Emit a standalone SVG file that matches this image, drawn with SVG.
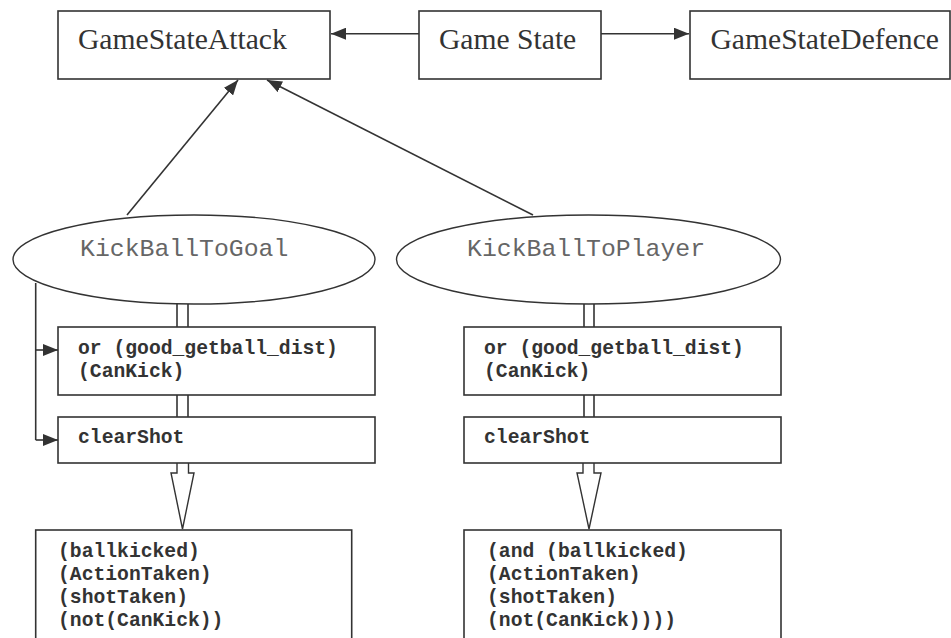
<svg xmlns="http://www.w3.org/2000/svg" width="951" height="638" viewBox="0 0 951 638">
<defs>
<marker id="ah" markerWidth="15" markerHeight="12" refX="15" refY="6" orient="auto" markerUnits="userSpaceOnUse">
<path d="M0,0 L15,6 L0,12 Z" fill="#333"/>
</marker>
<style>
.box{fill:#fff;stroke:#333;stroke-width:1.6}
.ell{fill:#fff;stroke:#333;stroke-width:1.4}
.ln{fill:none;stroke:#333;stroke-width:1.6}
.hol{fill:#fff;stroke:#333;stroke-width:1.4}
.serif{font-family:"Liberation Serif","Times New Roman",serif;font-size:29.6px;fill:#333}
.mono{font-family:"Liberation Mono","Courier New",monospace;font-size:24.8px;fill:#666}
.code{font-family:"Liberation Mono","Courier New",monospace;font-size:19.7px;font-weight:bold;fill:#333}
</style>
</defs>
<rect width="951" height="638" fill="#fff"/>
<g id="connectors">
<line class="ln" x1="419" y1="33.7" x2="331" y2="33.7" marker-end="url(#ah)"/>
<line class="ln" x1="601" y1="33.7" x2="689" y2="33.7" marker-end="url(#ah)"/>
<line class="ln" x1="127" y1="215" x2="238" y2="80" marker-end="url(#ah)"/>
<line class="ln" x1="533" y1="215" x2="267" y2="80" marker-end="url(#ah)"/>
<path class="ln" d="M35.7,283 V440"/>
<line class="ln" x1="35.7" y1="350" x2="58" y2="350" marker-end="url(#ah)"/>
<line class="ln" x1="35.7" y1="440" x2="58" y2="440" marker-end="url(#ah)"/>
<path class="ln" d="M177,304 V327 M188,304 V327 M177,395 V417 M188,395 V417"/>
<path class="ln" d="M584,304 V327 M594,304 V327 M584,395 V417 M594,395 V417"/>
<path class="hol" d="M177,463 V473 H171 L182.5,529 L194,473 H188.5 V463"/>
<path class="hol" d="M583,463 V473 H577 L589,529 L601,473 H594 V463"/>
</g>
<g id="gameStateAttack">
<rect class="box" x="58" y="11" width="272" height="68"/>
<text class="serif" x="78" y="49.3">GameStateAttack</text>
</g>
<g id="gameState">
<rect class="box" x="419" y="11" width="182" height="68"/>
<text class="serif" x="439" y="49.3">Game State</text>
</g>
<g id="gameStateDefence">
<rect class="box" x="690" y="11" width="260" height="68"/>
<text class="serif" x="710.5" y="49.3">GameStateDefence</text>
</g>
<g id="kickBallToGoal">
<ellipse class="ell" cx="194" cy="259.5" rx="181" ry="44.5"/>
<text class="mono" x="80" y="256">KickBallToGoal</text>
</g>
<g id="kickBallToPlayer">
<ellipse class="ell" cx="588.5" cy="259.5" rx="192" ry="44.5"/>
<text class="mono" x="467" y="256">KickBallToPlayer</text>
</g>
<g id="goalCondition">
<rect class="box" x="58" y="327" width="317" height="68"/>
<text class="code" x="78" y="354">or (good_getball_dist)</text>
<text class="code" x="78" y="376.7">(CanKick)</text>
</g>
<g id="goalClearShot">
<rect class="box" x="58" y="417" width="317" height="46"/>
<text class="code" x="78" y="443">clearShot</text>
</g>
<g id="goalEffects">
<rect class="box" x="35.7" y="530" width="316" height="120"/>
<text class="code" x="58" y="557.3">(ballkicked)</text>
<text class="code" x="58" y="580.3">(ActionTaken)</text>
<text class="code" x="58" y="603.3">(shotTaken)</text>
<text class="code" x="58" y="626.3">(not(CanKick))</text>
</g>
<g id="playerCondition">
<rect class="box" x="464" y="327" width="317" height="68"/>
<text class="code" x="484" y="354">or (good_getball_dist)</text>
<text class="code" x="484" y="376.7">(CanKick)</text>
</g>
<g id="playerClearShot">
<rect class="box" x="464" y="417" width="317" height="46"/>
<text class="code" x="484" y="443">clearShot</text>
</g>
<g id="playerEffects">
<rect class="box" x="464" y="530" width="317" height="120"/>
<text class="code" x="487" y="557.3">(and (ballkicked)</text>
<text class="code" x="487" y="580.3">(ActionTaken)</text>
<text class="code" x="487" y="603.3">(shotTaken)</text>
<text class="code" x="487" y="626.3">(not(CanKick))))</text>
</g>
</svg>
